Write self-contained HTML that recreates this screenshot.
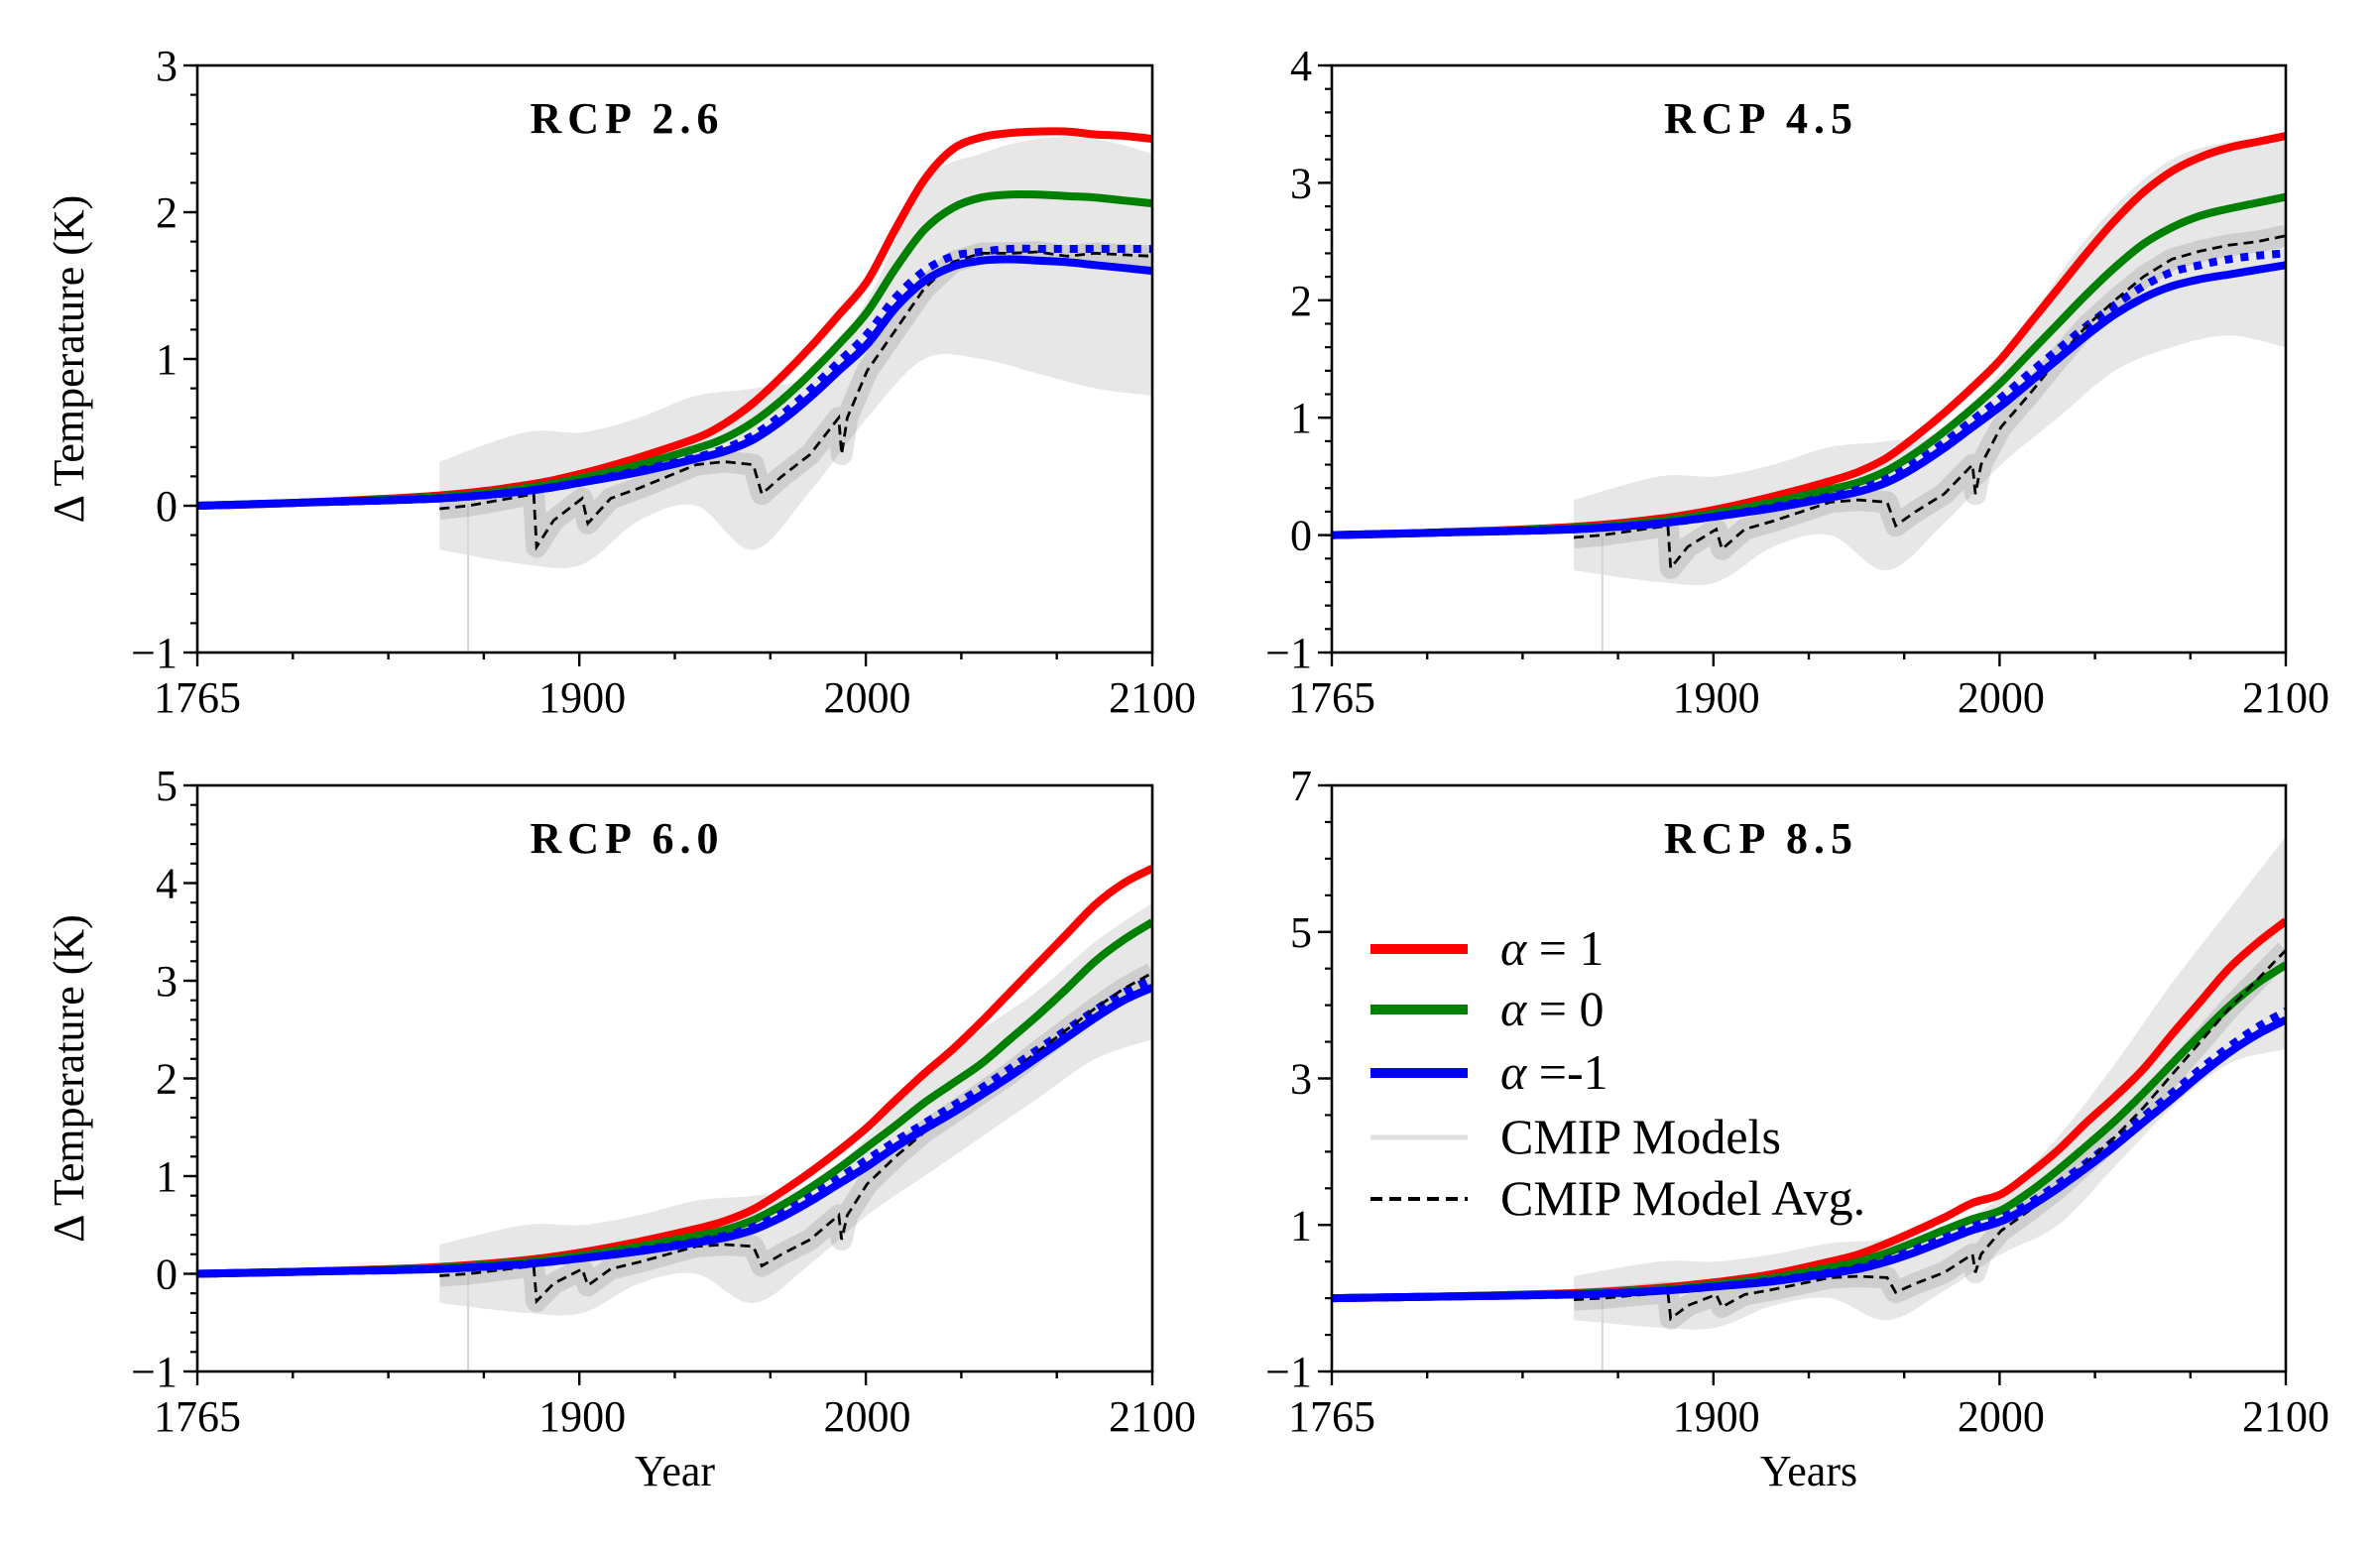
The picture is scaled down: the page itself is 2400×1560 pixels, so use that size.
<!DOCTYPE html>
<html><head><meta charset="utf-8">
<style>
html,body{margin:0;padding:0;background:#fff;}
svg{display:block;}
text{font-family:"Liberation Serif","DejaVu Serif",serif;fill:#000;}
</style></head>
<body>
<svg id="fig" width="2400" height="1560" viewBox="0 0 2400 1560" xmlns="http://www.w3.org/2000/svg"></svg>
<script>
const years = [1765,1800,1850,1880,1900,1920,1940,1950,1960,1970,1980,1990,2000,2010,2020,2030,2040,2050,2060,2070,2080,2090,2100];
const dashYears = [1850,1860,1883,1884,1890,1900,1902,1910,1920,1930,1940,1950,1960,1963,1970,1980,1990,1991,1993,2000,2010,2020,2030,2040,2050,2060,2070,2080,2090,2100];
const bandYears = [1850,1880,1900,1920,1940,1960,1980,2000,2020,2040,2060,2080,2100];
const xTickLabels = ["1765","1900","2000","2100"];
const xTickYears = [1765,1900,2000,2100];

const red26 = [0,0.02,0.07,0.14,0.22,0.33,0.46,0.56,0.7,0.88,1.08,1.3,1.53,1.89,2.22,2.43,2.51,2.54,2.55,2.55,2.53,2.52,2.5];
const green26 = [0,0.02,0.06,0.12,0.19,0.28,0.39,0.46,0.57,0.72,0.9,1.1,1.32,1.62,1.88,2.03,2.1,2.12,2.12,2.11,2.1,2.08,2.06];
const blue26 = [0,0.02,0.05,0.1,0.16,0.23,0.32,0.37,0.45,0.58,0.74,0.92,1.1,1.35,1.53,1.63,1.67,1.68,1.67,1.66,1.64,1.62,1.6];
const dot26 = [0,0.02,0.05,0.1,0.16,0.24,0.33,0.39,0.48,0.62,0.79,0.98,1.17,1.42,1.6,1.7,1.73,1.75,1.75,1.75,1.75,1.75,1.75];
const dash26 = [-0.02,0.0,0.08,-0.28,-0.1,0.05,-0.12,0.05,0.12,0.2,0.28,0.3,0.28,0.08,0.2,0.35,0.6,0.35,0.6,0.92,1.2,1.48,1.66,1.72,1.72,1.73,1.7,1.72,1.71,1.7];
const up26 = [0.3,0.5,0.5,0.6,0.75,0.8,0.9,1.4,2.2,2.4,2.5,2.5,2.4];
const lo26 = [-0.3,-0.4,-0.4,-0.1,0.0,-0.3,0.1,0.6,1.0,1.0,0.9,0.8,0.75];

const red45 = [0,0.02,0.07,0.14,0.22,0.33,0.46,0.54,0.66,0.84,1.04,1.26,1.5,1.8,2.1,2.4,2.68,2.92,3.1,3.22,3.3,3.35,3.4];
const green45 = [0,0.02,0.06,0.12,0.19,0.28,0.39,0.45,0.55,0.7,0.88,1.08,1.3,1.55,1.8,2.05,2.28,2.48,2.62,2.72,2.78,2.83,2.88];
const blue45 = [0,0.02,0.05,0.1,0.16,0.23,0.32,0.37,0.45,0.58,0.74,0.92,1.1,1.3,1.5,1.7,1.88,2.02,2.12,2.18,2.22,2.26,2.3];
const dot45 = [0,0.02,0.05,0.1,0.16,0.24,0.33,0.39,0.48,0.62,0.79,0.98,1.17,1.38,1.58,1.78,1.96,2.12,2.24,2.3,2.35,2.38,2.4];
const dash45 = [-0.02,0.0,0.08,-0.28,-0.1,0.05,-0.12,0.05,0.12,0.2,0.28,0.3,0.28,0.08,0.2,0.35,0.6,0.35,0.6,0.92,1.2,1.5,1.78,2.0,2.2,2.35,2.42,2.47,2.5,2.55];
const up45 = [0.3,0.5,0.5,0.6,0.75,0.8,0.9,1.4,2.2,2.8,3.2,3.35,3.4];
const lo45 = [-0.3,-0.4,-0.4,-0.1,0.0,-0.3,0.1,0.6,1.0,1.4,1.6,1.7,1.6];

const red60 = [0,0.02,0.07,0.14,0.22,0.33,0.46,0.54,0.66,0.84,1.04,1.26,1.5,1.78,2.05,2.3,2.58,2.88,3.18,3.48,3.78,4.0,4.15];
const green60 = [0,0.02,0.06,0.12,0.19,0.28,0.39,0.45,0.55,0.7,0.88,1.08,1.3,1.52,1.75,1.95,2.15,2.4,2.65,2.92,3.2,3.42,3.6];
const blue60 = [0,0.02,0.05,0.1,0.16,0.23,0.32,0.37,0.45,0.58,0.74,0.92,1.1,1.3,1.48,1.65,1.83,2.02,2.22,2.42,2.62,2.8,2.93];
const dot60 = [0,0.02,0.05,0.1,0.16,0.24,0.33,0.39,0.48,0.62,0.79,0.98,1.17,1.36,1.54,1.72,1.9,2.1,2.3,2.5,2.7,2.88,3.02];
const dash60 = [-0.02,0.0,0.08,-0.28,-0.1,0.05,-0.12,0.05,0.12,0.2,0.28,0.3,0.28,0.08,0.2,0.35,0.6,0.35,0.6,0.92,1.2,1.45,1.65,1.85,2.05,2.28,2.5,2.72,2.92,3.08];
const up60 = [0.3,0.5,0.5,0.6,0.75,0.8,0.9,1.4,2.1,2.5,2.9,3.4,3.8];
const lo60 = [-0.3,-0.4,-0.4,-0.1,0.0,-0.3,0.1,0.6,1.0,1.4,1.8,2.2,2.4];

const red85 = [0,0.02,0.07,0.14,0.22,0.33,0.5,0.6,0.75,0.92,1.1,1.3,1.42,1.7,2.02,2.4,2.75,3.13,3.6,4.05,4.5,4.85,5.15];
const green85 = [0,0.02,0.06,0.12,0.19,0.28,0.42,0.5,0.62,0.77,0.93,1.08,1.2,1.45,1.75,2.08,2.42,2.8,3.2,3.6,3.98,4.3,4.55];
const blue85 = [0,0.02,0.05,0.1,0.16,0.23,0.34,0.4,0.5,0.63,0.78,0.93,1.05,1.25,1.5,1.78,2.08,2.4,2.72,3.05,3.35,3.6,3.8];
const dot85 = [0,0.02,0.05,0.1,0.16,0.24,0.35,0.42,0.53,0.67,0.82,0.98,1.1,1.3,1.56,1.85,2.16,2.48,2.8,3.13,3.43,3.7,3.92];
const dash85 = [-0.02,0.0,0.08,-0.28,-0.1,0.05,-0.12,0.05,0.12,0.2,0.28,0.3,0.28,0.08,0.2,0.35,0.6,0.35,0.6,0.92,1.2,1.5,1.85,2.2,2.6,3.05,3.5,3.95,4.35,4.75];
const up85 = [0.3,0.5,0.5,0.6,0.75,0.8,0.9,1.4,2.2,3.2,4.3,5.3,6.3];
const lo85 = [-0.3,-0.4,-0.4,-0.1,0.0,-0.3,0.1,0.6,1.0,1.8,2.6,3.2,3.4];

const panelTitles = ["RCP 2.6","RCP 4.5","RCP 6.0","RCP 8.5"];
const yTicks26 = [-1,0,1,2,3];
const yTicks45 = [-1,0,1,2,3,4];
const yTicks60 = [-1,0,1,2,3,4,5];
const yTicks85 = [-1,1,3,5,7];
const legendLabels = ["= 1","= 0","=-1","CMIP Models","CMIP Model Avg."];

const NS = "http://www.w3.org/2000/svg";
const fig = document.getElementById("fig");
function mk(tag, attrs, parent){
  const e = document.createElementNS(NS, tag);
  for (const k in attrs) e.setAttribute(k, attrs[k]);
  (parent||fig).appendChild(e);
  return e;
}
function smoothPath(pts){
  let d = "M" + pts[0][0].toFixed(1) + "," + pts[0][1].toFixed(1);
  for (let i = 0; i < pts.length-1; i++){
    const p0 = pts[Math.max(0,i-1)], p1 = pts[i], p2 = pts[i+1], p3 = pts[Math.min(pts.length-1,i+2)];
    const c1x = p1[0] + (p2[0]-p0[0])/6, c1y = p1[1] + (p2[1]-p0[1])/6;
    const c2x = p2[0] - (p3[0]-p1[0])/6, c2y = p2[1] - (p3[1]-p1[1])/6;
    d += "C" + c1x.toFixed(1)+","+c1y.toFixed(1)+" "+c2x.toFixed(1)+","+c2y.toFixed(1)+" "+p2[0].toFixed(1)+","+p2[1].toFixed(1);
  }
  return d;
}

const panels = [
  {x0:199,x1:1162,y0:66,y1:658,ymin:-1,ymax:3,minor:0.2,ticks:yTicks26,red:red26,green:green26,blue:blue26,dot:dot26,dash:dash26,up:up26,lo:lo26,xlabel:null,ylabel:true,name:"rcp26"},
  {x0:1343,x1:2305,y0:66,y1:658,ymin:-1,ymax:4,minor:0.2,ticks:yTicks45,red:red45,green:green45,blue:blue45,dot:dot45,dash:dash45,up:up45,lo:lo45,xlabel:null,ylabel:false,name:"rcp45"},
  {x0:199,x1:1162,y0:792,y1:1383,ymin:-1,ymax:5,minor:0.2,ticks:yTicks60,red:red60,green:green60,blue:blue60,dot:dot60,dash:dash60,up:up60,lo:lo60,xlabel:"Year",ylabel:true,name:"rcp60"},
  {x0:1343,x1:2305,y0:792,y1:1383,ymin:-1,ymax:7,minor:0.5,ticks:yTicks85,red:red85,green:green85,blue:blue85,dot:dot85,dash:dash85,up:up85,lo:lo85,xlabel:"Years",ylabel:false,name:"rcp85"}
];

panels.forEach((p, pi) => {
  const g = mk("g", {});
  
  
  const sx = yr => p.x0 + (yr - 1765) / (2100 - 1765) * (p.x1 - p.x0);
  const sy = v => p.y1 - (v - p.ymin) / (p.ymax - p.ymin) * (p.y1 - p.y0);
  const clipId = "clip" + pi;
  const cp = mk("clipPath", {id: clipId}, g);
  mk("rect", {x:p.x0, y:p.y0, width:p.x1-p.x0, height:p.y1-p.y0}, cp);
  const plot = mk("g", {"clip-path":"url(#"+clipId+")"}, g);

  const upPts = bandYears.map((yr,i)=>[sx(yr), sy(p.up[i])]);
  const loPts = bandYears.map((yr,i)=>[sx(yr), sy(p.lo[i])]).reverse();
  let d = smoothPath(upPts) + "L" + smoothPath(loPts).slice(1) + "Z";
  const band = mk("path", {d: d, fill:"#cfcfcf", "fill-opacity":"0.5", stroke:"none"}, plot);
  
  

  const spike = mk("line", {x1:sx(1860), x2:sx(1860), y1:sy(0), y2:p.y1, stroke:"#d5d5d5", "stroke-width":"2"}, plot);
  
  

  const linePath = (xs, vs) => xs.map((yr,i)=>(i?"L":"M")+sx(yr).toFixed(1)+","+sy(vs[i]).toFixed(1)).join("");
  const curvePath = (xs, vs) => smoothPath(xs.map((yr,i)=>[sx(yr), sy(vs[i])]));

  const core = mk("path", {d: linePath(dashYears, p.dash), fill:"none", stroke:"#444", "stroke-opacity":"0.15", "stroke-width":"22", "stroke-linejoin":"round"}, plot);
  
  

  const series = [["#ff0000",p.red,"alpha-1-line"],["#008000",p.green,"alpha-0-line"]];
  series.forEach(s => {
    const l = mk("path", {d: curvePath(years, s[1]), fill:"none", stroke:s[0], "stroke-width":"8", "stroke-linejoin":"round"}, plot);
    
    
  });
  const dt = mk("path", {d: curvePath(years, p.dot), fill:"none", stroke:"#0000ff", "stroke-width":"8", "stroke-dasharray":"8 8"}, plot);
  
  
  const dl = mk("path", {d: linePath(dashYears, p.dash), fill:"none", stroke:"#000", "stroke-width":"2.8", "stroke-dasharray":"10 6"}, plot);
  
  
  const bl = mk("path", {d: curvePath(years, p.blue), fill:"none", stroke:"#0000ff", "stroke-width":"8", "stroke-linejoin":"round"}, plot);
  
  

  const fr = mk("rect", {x:p.x0, y:p.y0, width:p.x1-p.x0, height:p.y1-p.y0, fill:"none", stroke:"#000", "stroke-width":"2.6"}, g);
  
  

  for (let k = 0; k <= 10; k++) {
    const x = p.x0 + k/10*(p.x1-p.x0);
    const major = (k===0||k===4||k===7||k===10);
    mk("line", {x1:x, x2:x, y1:p.y1, y2:p.y1 + (major?14:7), stroke:"#000", "stroke-width":"2.4"}, g);
  }
  xTickYears.forEach((yr,i)=>{
    const t = mk("text", {x:sx(yr), y:p.y1+60, "font-size":"44", "text-anchor":"middle"}, g);
    t.textContent = xTickLabels[i];
    
    
  });
  const nMin = Math.round((p.ymax-p.ymin)/p.minor);
  for (let k = 0; k <= nMin; k++) {
    const v = p.ymin + k*p.minor;
    mk("line", {x1:p.x0-7, x2:p.x0, y1:sy(v), y2:sy(v), stroke:"#000", "stroke-width":"2.2"}, g);
  }
  p.ticks.forEach(v=>{
    mk("line", {x1:p.x0-14, x2:p.x0, y1:sy(v), y2:sy(v), stroke:"#000", "stroke-width":"2.4"}, g);
    const t = mk("text", {x:p.x0-20, y:sy(v)+15, "font-size":"44", "text-anchor":"end"}, g);
    t.textContent = v < 0 ? "\u2212" + Math.abs(v) : String(v);
    
    
  });
  const tt = mk("text", {x:(p.x0+p.x1)/2 - 48, y:p.y0+68, "font-size":"44", "font-weight":"bold", "letter-spacing":"6", "text-anchor":"middle"}, g);
  tt.textContent = panelTitles[pi];
  
  
  if (p.ylabel) {
    const cy = (p.y0+p.y1)/2;
    const yl = mk("text", {x:0, y:0, "font-size":"44", "text-anchor":"middle", transform:"translate(84,"+cy+") rotate(-90)"}, g);
    yl.textContent = "\u0394 Temperature (K)";
    
    
  }
  if (p.xlabel) {
    const xl = mk("text", {x:(p.x0+p.x1)/2, y:1498, "font-size":"44", "text-anchor":"middle"}, g);
    xl.textContent = p.xlabel;
    
    
  }
});

const lg = mk("g", {});


const legY = [957,1018,1082,1147,1209];
const legStyles = [
  {stroke:"#ff0000", w:10, dash:""},
  {stroke:"#008000", w:10, dash:""},
  {stroke:"#0000ff", w:10, dash:""},
  {stroke:"#e0e0e0", w:5, dash:""},
  {stroke:"#000", w:4, dash:"12 7"}
];
legendLabels.forEach((lab,i)=>{
  const s = legStyles[i];
  const ln = mk("line", {x1:1382, x2:1480, y1:legY[i], y2:legY[i], stroke:s.stroke, "stroke-width":s.w, "stroke-dasharray":s.dash}, lg);
  
  
  const t = mk("text", {x:1513, y:legY[i]+16, "font-size":"50"}, lg);
  
  
  if (i < 3) {
    const a = mk("tspan", {"font-style":"italic"}, t);
    a.textContent = "\u03b1 ";
    const b = mk("tspan", {}, t);
    b.textContent = lab;
  } else {
    t.textContent = lab;
  }
});
</script>
</body></html>
